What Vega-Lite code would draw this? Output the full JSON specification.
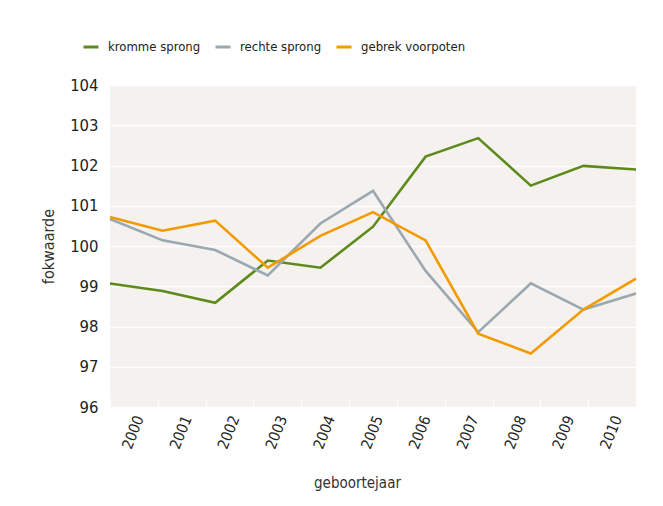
{
  "$schema": "https://vega.github.io/schema/vega-lite/v6.json",
  "width": 526,
  "height": 322,
  "autosize": "none",
  "padding": {"left": 110, "top": 85, "right": 27, "bottom": 99},
  "background": "white",
  "config": {
    "view": {"fill": "#f4f1ee", "stroke": null},
    "font": "DejaVu Sans Condensed, sans-serif"
  },
  "data": {
    "values": [
      {"year": 2000, "series": "kromme sprong", "value": 99.07},
      {"year": 2001, "series": "kromme sprong", "value": 98.88},
      {"year": 2002, "series": "kromme sprong", "value": 98.59},
      {"year": 2003, "series": "kromme sprong", "value": 99.64},
      {"year": 2004, "series": "kromme sprong", "value": 99.46},
      {"year": 2005, "series": "kromme sprong", "value": 100.48},
      {"year": 2006, "series": "kromme sprong", "value": 102.22},
      {"year": 2007, "series": "kromme sprong", "value": 102.68},
      {"year": 2008, "series": "kromme sprong", "value": 101.5},
      {"year": 2009, "series": "kromme sprong", "value": 101.99},
      {"year": 2010, "series": "kromme sprong", "value": 101.9},
      {"year": 2000, "series": "rechte sprong", "value": 100.67},
      {"year": 2001, "series": "rechte sprong", "value": 100.14},
      {"year": 2002, "series": "rechte sprong", "value": 99.9},
      {"year": 2003, "series": "rechte sprong", "value": 99.27},
      {"year": 2004, "series": "rechte sprong", "value": 100.56},
      {"year": 2005, "series": "rechte sprong", "value": 101.37},
      {"year": 2006, "series": "rechte sprong", "value": 99.38},
      {"year": 2007, "series": "rechte sprong", "value": 97.86},
      {"year": 2008, "series": "rechte sprong", "value": 99.07},
      {"year": 2009, "series": "rechte sprong", "value": 98.42},
      {"year": 2010, "series": "rechte sprong", "value": 98.82},
      {"year": 2000, "series": "gebrek voorpoten", "value": 100.72},
      {"year": 2001, "series": "gebrek voorpoten", "value": 100.38},
      {"year": 2002, "series": "gebrek voorpoten", "value": 100.63},
      {"year": 2003, "series": "gebrek voorpoten", "value": 99.46},
      {"year": 2004, "series": "gebrek voorpoten", "value": 100.25},
      {"year": 2005, "series": "gebrek voorpoten", "value": 100.84},
      {"year": 2006, "series": "gebrek voorpoten", "value": 100.14},
      {"year": 2007, "series": "gebrek voorpoten", "value": 97.82},
      {"year": 2008, "series": "gebrek voorpoten", "value": 97.33},
      {"year": 2009, "series": "gebrek voorpoten", "value": 98.42},
      {"year": 2010, "series": "gebrek voorpoten", "value": 99.19}
    ]
  },
  "layer": [
    {
      "mark": {"type": "line", "strokeWidth": 2.6},
      "encoding": {
        "x": {
          "field": "year",
          "type": "quantitative",
          "scale": {"domain": [2000, 2010], "nice": false, "zero": false},
          "axis": null
        },
        "y": {
          "field": "value",
          "type": "quantitative",
          "scale": {"domain": [96, 104], "nice": false, "zero": false},
          "axis": {
            "values": [96, 97, 98, 99, 100, 101, 102, 103, 104],
            "domain": false,
            "ticks": false,
            "grid": true,
            "gridColor": "white",
            "gridWidth": 1.5,
            "labelFontSize": 16.5,
            "labelColor": "#222222",
            "labelPadding": 12,
            "title": "fokwaarde",
            "titleFontSize": 16,
            "titleFontWeight": "normal",
            "titleColor": "#333333",
            "titlePadding": 13
          }
        },
        "color": {
          "field": "series",
          "type": "nominal",
          "scale": {
            "domain": ["kromme sprong", "rechte sprong", "gebrek voorpoten"],
            "range": ["#5e8a1c", "#9aa9b1", "#f39a00"]
          },
          "legend": {
            "orient": "none",
            "legendX": -28,
            "legendY": -47,
            "direction": "horizontal",
            "title": null,
            "symbolType": "stroke",
            "symbolStrokeWidth": 3,
            "symbolSize": 225,
            "labelFontSize": 13,
            "labelOffset": 8,
            "columnPadding": 8,
            "labelColor": "#222222"
          }
        }
      }
    },
    {
      "mark": {"type": "point", "opacity": 0},
      "encoding": {
        "x": {
          "field": "year",
          "type": "ordinal",
          "scale": {"type": "band", "paddingInner": 0, "paddingOuter": 0},
          "axis": {
            "title": "geboortejaar",
            "labelAngle": -68,
            "labelFontSize": 15,
            "labelColor": "#222222",
            "labelOffset": 5,
            "tickBand": "extent",
            "tickColor": "white",
            "tickSize": -8,
            "tickWidth": 1.5,
            "domain": false,
            "labelPadding": 17,
            "titleFontSize": 15,
            "titleFontWeight": "normal",
            "titleColor": "#333333",
            "titleX": 247,
            "titleY": 75,
            "titleBaseline": "middle"
          }
        }
      }
    }
  ],
  "resolve": {"scale": {"x": "independent"}}
}
